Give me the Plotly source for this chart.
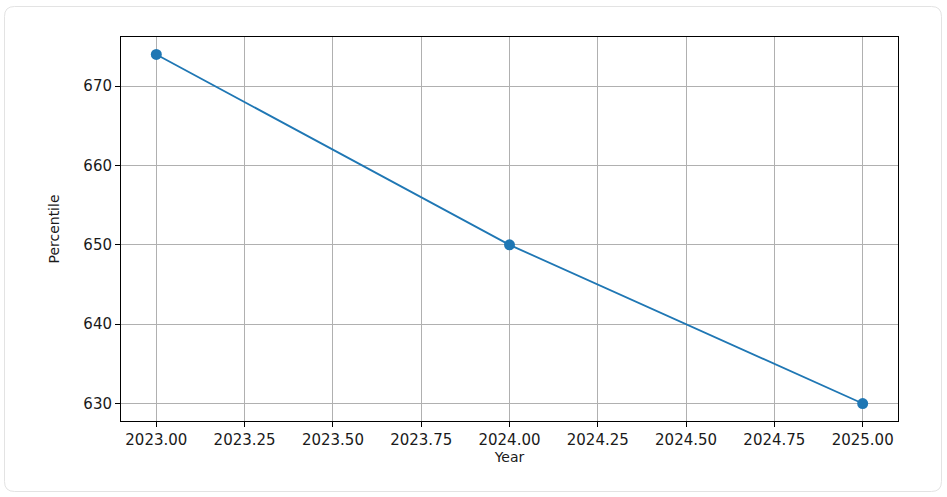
import plotly.graph_objects as go

# Données
years = [2023, 2024, 2025]
percentiles = [674, 650, 630]

x_ticks = [2023 + 0.25 * i for i in range(9)]
y_ticks = [630, 640, 650, 660, 670]

W, H = 947, 497
ML, MR, MT, MB = 121, 49, 37, 76
PW = W - ML - MR
PH = H - MT - MB


def px_to_paper(x, y):
    return (x - ML) / PW, (H - MB - y) / PH


def rounded_card(x0, y0, x1, y1, r):
    # cadre arrondi autour du graphique
    def p(x, y):
        a, b = px_to_paper(x, y)
        return f"{a:.5f},{b:.5f}"
    return (
        f"M {p(x0 + r, y0)} L {p(x1 - r, y0)} Q {p(x1, y0)} {p(x1, y0 + r)} "
        f"L {p(x1, y1 - r)} Q {p(x1, y1)} {p(x1 - r, y1)} "
        f"L {p(x0 + r, y1)} Q {p(x0, y1)} {p(x0, y1 - r)} "
        f"L {p(x0, y0 + r)} Q {p(x0, y0)} {p(x0 + r, y0)} Z"
    )


fig = go.Figure()

fig.add_trace(go.Scatter(
    x=years,
    y=percentiles,
    mode='lines+markers',
    line=dict(color='#1f77b4', width=1.8),
    marker=dict(color='#1f77b4', size=11),
    showlegend=False,
    cliponaxis=False
))

fig.add_shape(
    type='path',
    path=rounded_card(4.5, 6.5, 941.5, 491.5, 10),
    xref='paper', yref='paper',
    line=dict(color='#e3e3e3', width=1),
    layer='below'
)

axis_common = dict(
    showline=True,
    linecolor='black',
    linewidth=1,
    mirror=True,
    ticks='outside',
    ticklen=5,
    tickwidth=1,
    tickcolor='black',
    showgrid=True,
    gridcolor='#b0b0b0',
    gridwidth=1,
    zeroline=False,
)

fig.update_xaxes(
    range=[2022.9, 2025.1],
    tickvals=x_ticks,
    tickformat='.2f',
    title=dict(text='Year', font=dict(size=14), standoff=0),
    tickfont=dict(size=15),
    **axis_common
)
fig.update_yaxes(
    range=[627.8, 676.2],
    tickvals=y_ticks,
    title=dict(text='Percentile', font=dict(size=14), standoff=20),
    tickfont=dict(size=15),
    **axis_common
)

fig.update_layout(
    width=W,
    height=H,
    margin=dict(l=ML, r=MR, t=MT, b=MB),
    paper_bgcolor='white',
    plot_bgcolor='white',
    font=dict(family='DejaVu Sans', color='#1a1a1a'),
)

fig.write_html(
    "out.html",
    config={'displayModeBar': False},
    post_script="document.body.style.margin='0';"
)
